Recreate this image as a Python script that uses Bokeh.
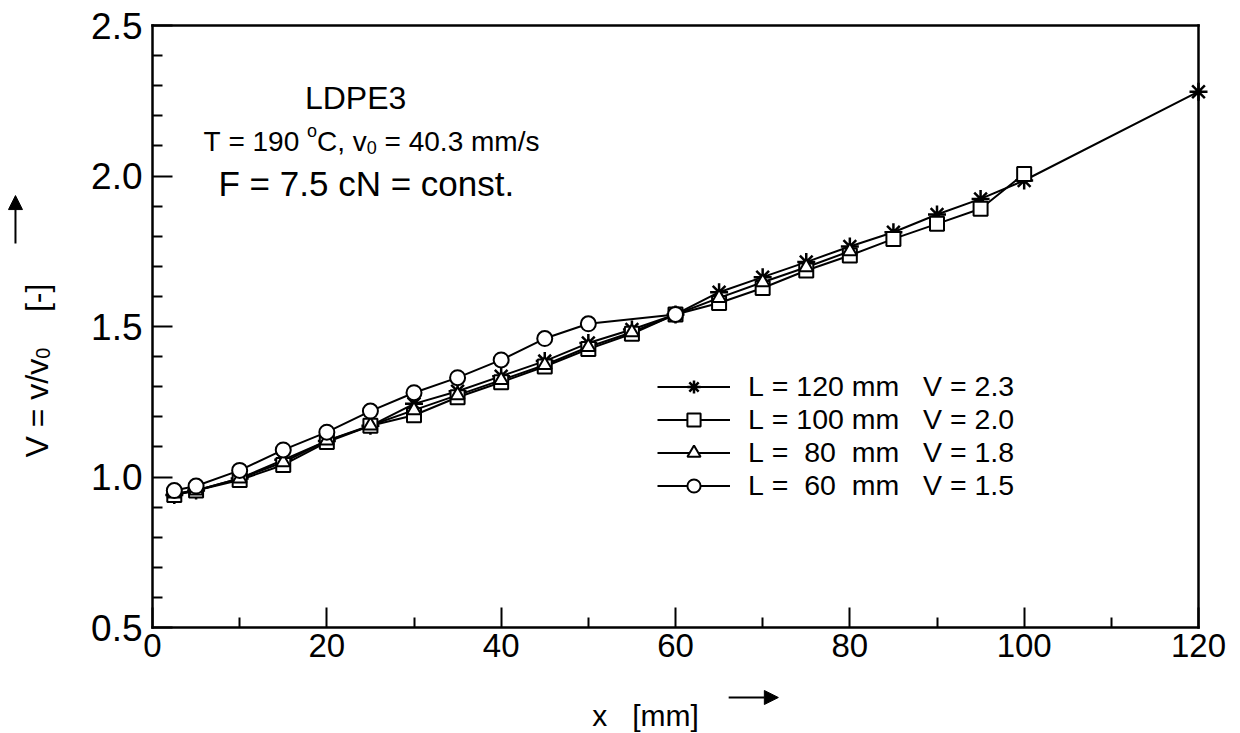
import numpy as np
from bokeh.plotting import figure
from bokeh.models import (Range1d, Label, Arrow, NormalHead, Legend, LegendItem,
                          FixedTicker, PrintfTickFormatter, LinearAxis)
from bokeh.embed import file_html
from bokeh.resources import INLINE

# ---------------- data ----------------
x_120 = [2.5, 5, 10, 15, 20, 25, 30, 35, 40, 45, 50, 55, 60, 65, 70, 75, 80, 85, 90, 95, 100, 120]
v_120 = [0.94, 0.955, 0.995, 1.057, 1.12, 1.17, 1.243, 1.285, 1.335, 1.385, 1.445, 1.49, 1.54,
         1.614, 1.664, 1.714, 1.766, 1.813, 1.872, 1.924, 1.985, 2.28]

x_100 = [2.5, 5, 10, 15, 20, 25, 30, 35, 40, 45, 50, 55, 60, 65, 70, 75, 80, 85, 90, 95, 100]
v_100 = [0.94, 0.955, 0.99, 1.04, 1.116, 1.17, 1.205, 1.265, 1.315, 1.367, 1.425, 1.476, 1.54,
         1.578, 1.628, 1.686, 1.736, 1.791, 1.841, 1.891, 2.007]

x_80 = [2.5, 5, 10, 15, 20, 25, 30, 35, 40, 45, 50, 55, 60, 65, 70, 75, 80]
v_80 = [0.945, 0.955, 0.995, 1.049, 1.121, 1.171, 1.222, 1.272, 1.322, 1.372, 1.432, 1.481, 1.54,
        1.595, 1.647, 1.697, 1.75]

x_60 = [2.5, 5, 10, 15, 20, 25, 30, 35, 40, 45, 50, 60]
v_60 = [0.955, 0.97, 1.022, 1.09, 1.149, 1.219, 1.28, 1.33, 1.389, 1.46, 1.509, 1.54]

labels = ["L = 120 mm   V = 2.3", "L = 100 mm   V = 2.0",
          "L =  80  mm   V = 1.8", "L =  60  mm   V = 1.5"]
markers = ["asterisk", "square", "triangle", "circle"]

x_ticks = [0, 20, 40, 60, 80, 100, 120]
x_minor = [10, 30, 50, 70, 90, 110]
y_ticks = [0.5, 1.0, 1.5, 2.0, 2.5]
y_minor = [0.6, 0.7, 0.8, 0.9, 1.1, 1.2, 1.3, 1.4, 1.6, 1.7, 1.8, 1.9, 2.1, 2.2, 2.3, 2.4]
X_MIN, X_MAX = 0, 120
Y_MIN, Y_MAX = 0.5, 2.5

FONT = "Liberation Sans"

# Arial / Liberation Sans advance widths (per 1000 em)
AW = {' ': 278, '\u00a0': 278, 'T': 611, '=': 584, ',': 278, 'C': 722, 'v': 500, '.': 278,
      'm': 833, '/': 278, 's': 500, 'o': 556, 'V': 667, '[': 278, ']': 278, '-': 333}
for d in "0123456789":
    AW[d] = 556


def tw(s, size):
    return sum(AW.get(c, 556) for c in s) * size / 1000.0


def nb(s):
    return s.replace(" ", "\u00a0")


# canvas geometry: the plotting box sits at px 152..1198 (x) and 25..627 (y)
W, H = 1240, 733
BL, BR, BT, BB = 152, 1198, 25, 627
kx = (BR - BL) / (X_MAX - X_MIN)
ky = (BB - BT) / (Y_MAX - Y_MIN)
xr = Range1d(X_MIN - BL / kx, X_MAX + (W - BR) / kx)
yr = Range1d(Y_MIN - (H - BB) / ky, Y_MAX + BT / ky)

p = figure(width=W, height=H, output_backend="svg", toolbar_location=None,
           x_range=xr, y_range=yr,
           min_border_left=0, min_border_right=0, min_border_top=0, min_border_bottom=0)
p.grid.visible = False
p.outline_line_color = None
p.background_fill_color = "white"
p.border_fill_color = "white"

xa = p.xaxis[0]
ya = p.yaxis[0]
xa.fixed_location = Y_MIN
ya.fixed_location = X_MIN
xa.bounds = (X_MIN, X_MAX)
ya.bounds = (Y_MIN, Y_MAX)

top = LinearAxis(fixed_location=Y_MAX, bounds=(X_MIN, X_MAX),
                 ticker=FixedTicker(ticks=[], minor_ticks=[]), major_label_text_font_size="0px")
right = LinearAxis(fixed_location=X_MAX, bounds=(Y_MIN, Y_MAX),
                   ticker=FixedTicker(ticks=[], minor_ticks=[]), major_label_text_font_size="0px")
p.add_layout(top, "above")
p.add_layout(right, "right")

for ax in (xa, ya, top, right):
    ax.axis_line_width = 2.5
    ax.axis_line_color = "black"
    ax.axis_line_cap = "square"
    ax.major_tick_in = 20
    ax.major_tick_out = 0
    ax.minor_tick_in = 10
    ax.minor_tick_out = 0
    ax.major_tick_line_width = 2
    ax.minor_tick_line_width = 2
    ax.major_tick_line_color = "black"
    ax.minor_tick_line_color = "black"
    ax.major_label_text_font = FONT
    ax.major_label_text_color = "black"

xa.major_label_text_font_size = "33px"
ya.major_label_text_font_size = "37px"
xa.ticker = FixedTicker(ticks=x_ticks, minor_ticks=x_minor)
ya.ticker = FixedTicker(ticks=y_ticks, minor_ticks=y_minor)
ya.formatter = PrintfTickFormatter(format="%.1f")
xa.major_label_standoff = 6
ya.major_label_standoff = 10

series = [(x_120, v_120), (x_100, v_100), (x_80, v_80), (x_60, v_60)]
line_rs = []
for xs, vs in series:
    line_rs.append(p.line(xs, vs, line_color="black", line_width=2))
scat_rs = []
for (xs, vs), m in zip(series, markers):
    if m == "asterisk":
        size, lw = 18, 2.5
    elif m == "circle":
        size, lw = 15, 2
    else:
        size, lw = 14, 2
    scat_rs.append(p.scatter(xs, vs, marker=m, size=size, fill_color="white",
                             line_color="black", line_width=lw))

legend = Legend(items=[LegendItem(label=nb(lab), renderers=[lr, sr])
                       for lab, lr, sr in zip(labels, line_rs, scat_rs)],
                location=(657, H - 502), orientation="vertical",
                border_line_color=None, background_fill_alpha=0,
                padding=0, margin=0, spacing=0,
                glyph_width=73, glyph_height=33, label_height=33, label_standoff=18,
                label_text_font=FONT, label_text_font_size="28.5px",
                label_text_color="black", label_text_baseline="middle")
p.add_layout(legend)


def lbl(x, y, text, size, **kw):
    p.add_layout(Label(x=x, y=y, text=text, text_font=FONT, text_font_size=f"{size}px",
                       text_color="black", **kw))


# annotations inside the box
lbl(23.3, 2.2575, "LDPE3", 32, text_align="center", text_baseline="middle")
lbl(7.57, 1.975, nb("F = 7.5 cN = const."), 35, text_align="left", text_baseline="middle")

# T = 190 oC, v0 = 40.3 mm/s  (composed with super/subscripts)
ts, ss = 28, 18
tx, ty = 5.85, 2.1146
off = 0.0
pieces = [(nb("T = 190 "), ts, 0), ("o", ss, 11), (nb("C, v"), ts, 0), ("0", ss, -6),
          (nb(" = 40.3 mm/s"), ts, 0)]
for t, s, dy in pieces:
    lbl(tx, ty, t, s, text_align="left", text_baseline="alphabetic", x_offset=off, y_offset=dy)
    off += tw(t, s)

# x axis title with arrow
lbl(56.56, 0.2076, nb("x   [mm]"), 30, text_align="center", text_baseline="middle")
p.add_layout(Arrow(end=NormalHead(size=14, fill_color="black", line_color="black"),
                   x_start=66.1, y_start=0.2674, x_end=71.8, y_end=0.2674,
                   line_width=2, line_color="black"))

# y axis title (rotated) with arrow
ys_, ss_ = 32, 20
yx, yy = -13.2, 1.0648
off = 0.0
ypieces = [(nb("V = v/v"), ys_, 0), ("0", ss_, 6), (nb("    [-]"), ys_, 0)]
for t, s, dx in ypieces:
    lbl(yx, yy, t, s, angle=90, angle_units="deg", text_align="left",
        text_baseline="alphabetic", x_offset=dx, y_offset=off)
    off += tw(t, s)
p.add_layout(Arrow(end=NormalHead(size=14, fill_color="black", line_color="black"),
                   x_start=-15.72, y_start=1.776, x_end=-15.72, y_end=1.935,
                   line_width=2, line_color="black"))

open("out.html", "w").write(file_html(p, INLINE))
